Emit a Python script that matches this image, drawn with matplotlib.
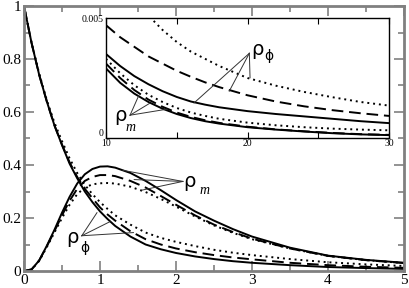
import numpy as np
import matplotlib
matplotlib.use("Agg")
import matplotlib.pyplot as plt
from matplotlib.ticker import MultipleLocator, FixedLocator

# ---------------- data ----------------
x_main = [0, 0.1, 0.2, 0.3, 0.4, 0.5, 0.6, 0.7, 0.8, 0.9, 1.0, 1.1, 1.2, 1.4,
          1.6, 1.8, 2.0, 2.25, 2.5, 2.75, 3.0, 3.5, 4.0, 4.5, 5.0]

rho_phi_solid = [1.0, 0.86, 0.74, 0.64, 0.55, 0.475, 0.405, 0.35, 0.30, 0.26, 0.225,
                 0.196, 0.17, 0.13, 0.10, 0.082, 0.068, 0.055, 0.045, 0.037, 0.031,
                 0.022, 0.015, 0.011, 0.008]
rho_phi_dashed = [1.0, 0.86, 0.74, 0.64, 0.55, 0.477, 0.41, 0.355, 0.31, 0.275, 0.24,
                  0.213, 0.19, 0.15, 0.12, 0.10, 0.085, 0.071, 0.06, 0.051, 0.044,
                  0.031, 0.022, 0.016, 0.012]
rho_phi_dotted = [1.0, 0.86, 0.745, 0.645, 0.56, 0.49, 0.425, 0.37, 0.325, 0.29, 0.26,
                  0.234, 0.21, 0.175, 0.145, 0.125, 0.11, 0.094, 0.08, 0.069, 0.06,
                  0.045, 0.033, 0.025, 0.019]

rho_m_solid = [0, 0.006, 0.04, 0.095, 0.155, 0.22, 0.28, 0.33, 0.365, 0.385, 0.394,
               0.395, 0.39, 0.37, 0.34, 0.305, 0.268, 0.225, 0.19, 0.158, 0.13,
               0.088, 0.058, 0.042, 0.031]
rho_m_dashed = [0, 0.006, 0.04, 0.093, 0.15, 0.21, 0.265, 0.31, 0.34, 0.355, 0.362,
                0.362, 0.358, 0.34, 0.315, 0.283, 0.25, 0.21, 0.175, 0.147, 0.122,
                0.085, 0.057, 0.041, 0.030]
rho_m_dotted = [0, 0.005, 0.038, 0.09, 0.145, 0.20, 0.25, 0.29, 0.315, 0.327, 0.331,
                0.332, 0.33, 0.318, 0.298, 0.272, 0.243, 0.206, 0.172, 0.144, 0.12,
                0.085, 0.057, 0.041, 0.030]

x_inset = [10, 11, 12, 13, 14, 15, 16, 17, 18, 20, 22, 24, 26, 28, 30]
in_phi_solid = [0.0035, 0.0030, 0.00258, 0.00224, 0.00195, 0.00171, 0.00152, 0.00139,
                0.00128, 0.00112, 0.0010, 0.0009, 0.0008, 0.0007, 0.00062]
in_phi_dashed = [0.0047, 0.0042, 0.0038, 0.0034, 0.0031, 0.0028, 0.00255, 0.00232,
                 0.00212, 0.00178, 0.00152, 0.00132, 0.00116, 0.00103, 0.00092]
in_phi_dotted = [0.0075, 0.0066, 0.0058, 0.0051, 0.0045, 0.0040, 0.0036, 0.0033,
                 0.0030, 0.0025, 0.00218, 0.00192, 0.0017, 0.0015, 0.00135]
in_m_solid = [0.0029, 0.0023, 0.00185, 0.0015, 0.00122, 0.0010, 0.00083, 0.0007,
              0.0006, 0.00045, 0.00035, 0.00027, 0.0002, 0.00015, 0.00012]
in_m_dashed = [0.0031, 0.0025, 0.0020, 0.0016, 0.0013, 0.00106, 0.00088, 0.00074,
               0.00063, 0.00047, 0.00036, 0.00028, 0.00021, 0.00016, 0.00013]
in_m_dotted = [0.0033, 0.0027, 0.0022, 0.0018, 0.0015, 0.00125, 0.00106, 0.00092,
               0.0008, 0.00064, 0.00053, 0.00045, 0.00039, 0.00035, 0.00032]

main_xticks = [0, 1, 2, 3, 4, 5]
main_yticks = [0, 0.2, 0.4, 0.6, 0.8, 1.0]
main_yticklabels = ["0", "0.2", "0.4", "0.6", "0.8", "1"]
inset_xticks = [10, 20, 30]
inset_yticks = [0, 0.005]
inset_yticklabels = ["0", "0.005"]

# ---------------- figure ----------------
plt.rcParams['font.family'] = ['Liberation Serif', 'DejaVu Serif']
W, H = 409, 288
fig = plt.figure(figsize=(W / 100, H / 100), dpi=100)

def fig_rect(l, t, r, b):
    return [l / W, 1 - b / H, (r - l) / W, (b - t) / H]

ax = fig.add_axes(fig_rect(24, 6, 404, 271))
gray = '#808080'
lw = 1.4
dash = (0, (6, 3))
dot = (0, (1, 2))

for ys, ls in [(rho_phi_solid, '-'), (rho_phi_dashed, dash), (rho_phi_dotted, dot),
               (rho_m_solid, '-'), (rho_m_dashed, dash), (rho_m_dotted, dot)]:
    ax.plot(x_main, ys, color='black', lw=lw, linestyle=ls)

ax.set_xlim(0, 5)
ax.set_ylim(0, 1)
ax.set_xticks(main_xticks)
ax.set_yticks(main_yticks)
ax.set_yticklabels(main_yticklabels)
ax.xaxis.set_minor_locator(MultipleLocator(0.5))
ax.yaxis.set_minor_locator(MultipleLocator(0.1))
ax.tick_params(which='both', direction='in', top=True, right=True, color=gray,
               width=1.2, labelsize=11, pad=2)
ax.tick_params(which='major', length=7)
ax.tick_params(which='minor', length=4)
for s in ax.spines.values():
    s.set_color(gray)
    s.set_linewidth(2)

# labels with pointers (main)
pl = dict(color='#333333', lw=0.7)
anchor = (2.09, 0.338)
for end in [(1.30, 0.380), (1.55, 0.305), (1.45, 0.345)]:
    ax.plot([anchor[0], end[0]], [anchor[1], end[1]], **pl)
ax.text(2.10, 0.338, 'ρ', family='DejaVu Sans', fontsize=14, va='center', ha='left')
ax.text(2.31, 0.305, 'm', family='Liberation Serif', style='italic', fontsize=10,
        va='center', ha='left')

anchor2 = (0.76, 0.133)
for end in [(0.96, 0.22), (1.13, 0.186), (1.44, 0.145)]:
    ax.plot([anchor2[0], end[0]], [anchor2[1], end[1]], **pl)
ax.text(0.56, 0.125, 'ρ', family='DejaVu Sans', fontsize=14, va='center', ha='left')
ax.text(0.74, 0.085, 'ϕ', family='DejaVu Sans', fontsize=10, va='center', ha='left')

# ---------------- inset ----------------
ins = fig.add_axes(fig_rect(106, 18, 389, 138))
for ys, ls in [(in_phi_solid, '-'), (in_phi_dashed, dash), (in_phi_dotted, dot),
               (in_m_solid, '-'), (in_m_dashed, dash), (in_m_dotted, dot)]:
    ins.plot(x_inset, ys, color='black', lw=lw, linestyle=ls)
ins.set_xlim(10, 30)
ins.set_ylim(0, 0.005)
ins.set_xticks(inset_xticks)
ins.xaxis.set_minor_locator(FixedLocator([15, 25]))
ins.set_yticks(inset_yticks)
ins.set_yticklabels(inset_yticklabels)
ins.tick_params(which='both', direction='in', top=True, labelsize=7, pad=1,
                length=4, width=0.8)
ins.tick_params(axis='y', length=0, pad=2)
ins.get_yticklabels()[0].set_va('bottom')
for s in ins.spines.values():
    s.set_color('black')
    s.set_linewidth(1)

pl2 = dict(color='#333333', lw=0.7)
a3 = (20.13, 0.00353)
for end in [(16.22, 0.00146), (18.71, 0.00195), (20.18, 0.00251)]:
    ins.plot([a3[0], end[0]], [a3[1], end[1]], **pl2)
ins.text(20.3, 0.0037, 'ρ', family='DejaVu Sans', fontsize=14, va='center', ha='left')
ins.text(21.15, 0.0034, 'ϕ', family='DejaVu Sans', fontsize=10, va='center', ha='left')

a4 = (11.7, 0.00095)
for end in [(12.3, 0.00175), (13.1, 0.00145), (14.3, 0.0012)]:
    ins.plot([a4[0], end[0]], [a4[1], end[1]], **pl2)
ins.text(10.55, 0.00095, 'ρ', family='DejaVu Sans', fontsize=14, va='center', ha='left')
ins.text(11.35, 0.00045, 'm', family='Liberation Serif', style='italic', fontsize=10,
         va='center', ha='left')

fig.savefig('out.png', dpi=100)
